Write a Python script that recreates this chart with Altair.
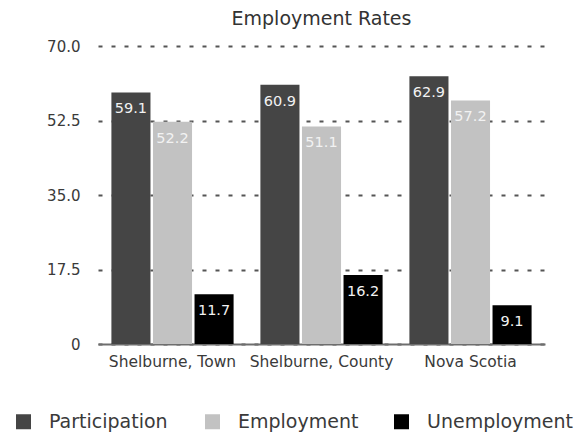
import altair as alt
import pandas as pd

# Employment indicators (%) by region
regions = ["Shelburne, Town", "Shelburne, County", "Nova Scotia"]
measures = ["Participation", "Employment", "Unemployment"]
participation = [59.1, 60.9, 62.9]
employment = [52.2, 51.1, 57.2]
unemployment = [11.7, 16.2, 9.1]
y_ticks = [0, 17.5, 35, 52.5, 70]
colors = ["#454545", "#c2c2c2", "#000000"]

rows = []
for series_name, series in zip(measures, [participation, employment, unemployment]):
    for region, value in zip(regions, series):
        rows.append({"region": region, "measure": series_name, "value": value})
df = pd.DataFrame(rows)

FONT = "DejaVu Sans"
TEXT = "#3a3a3a"

base = alt.Chart(df).encode(
    x=alt.X(
        "region:N",
        sort=regions,
        title=None,
        scale=alt.Scale(paddingInner=0.18, paddingOuter=0.09),
        axis=alt.Axis(
            labelAngle=0,
            ticks=False,
            labelPadding=10,
            labelFont=FONT,
            labelFontSize=15.5,
            labelColor=TEXT,
            domainColor="#6e6e6e",
            domainWidth=2,
            grid=False,
        ),
    ),
    xOffset=alt.XOffset(
        "measure:N", sort=measures, scale=alt.Scale(paddingInner=0.06, paddingOuter=0)
    ),
    y=alt.Y(
        "value:Q",
        title=None,
        scale=alt.Scale(domain=[0, 70], nice=False),
        axis=alt.Axis(
            values=y_ticks,
            labelExpr="datum.value == 0 ? '0' : format(datum.value, '.1f')",
            ticks=False,
            domain=False,
            labelPadding=18,
            labelFont=FONT,
            labelFontSize=15,
            labelColor=TEXT,
            gridColor="#555555",
            gridWidth=2,
            gridDash=[4, 9],
        ),
    ),
)

bars = base.mark_bar().encode(
    color=alt.Color(
        "measure:N",
        sort=measures,
        scale=alt.Scale(domain=measures, range=colors),
        legend=alt.Legend(
            title=None,
            orient="none",
            direction="horizontal",
            columns=3,
            gridAlign="all",
            legendX=-84,
            legendY=366,
            padding=0,
            symbolType="square",
            symbolSize=225,
            symbolStrokeWidth=0,
            symbolOpacity=1,
            labelOffset=16,
            columnPadding=7,
            labelFont=FONT,
            labelFontSize=19,
            labelColor=TEXT,
            labelLimit=300,
        ),
    )
)

labels = base.mark_text(
    baseline="middle", dy=17, color="#f2f2f2", font=FONT, fontSize=14.5
).encode(text=alt.Text("value:Q", format=".1f"))

chart = (
    alt.layer(bars, labels)
    .properties(
        width=447,
        height=298,
        title=alt.TitleParams(
            "Employment Rates",
            font=FONT,
            fontSize=19,
            fontWeight="normal",
            color="#333333",
            anchor="middle",
            offset=10,
        ),
        autosize=alt.AutoSizeParams(type="none"),
        padding={"left": 98, "top": 46, "right": 31, "bottom": 92},
    )
    .configure_view(stroke=None)
)

chart.save("out.html", embed_options={"renderer": "svg", "actions": False})
